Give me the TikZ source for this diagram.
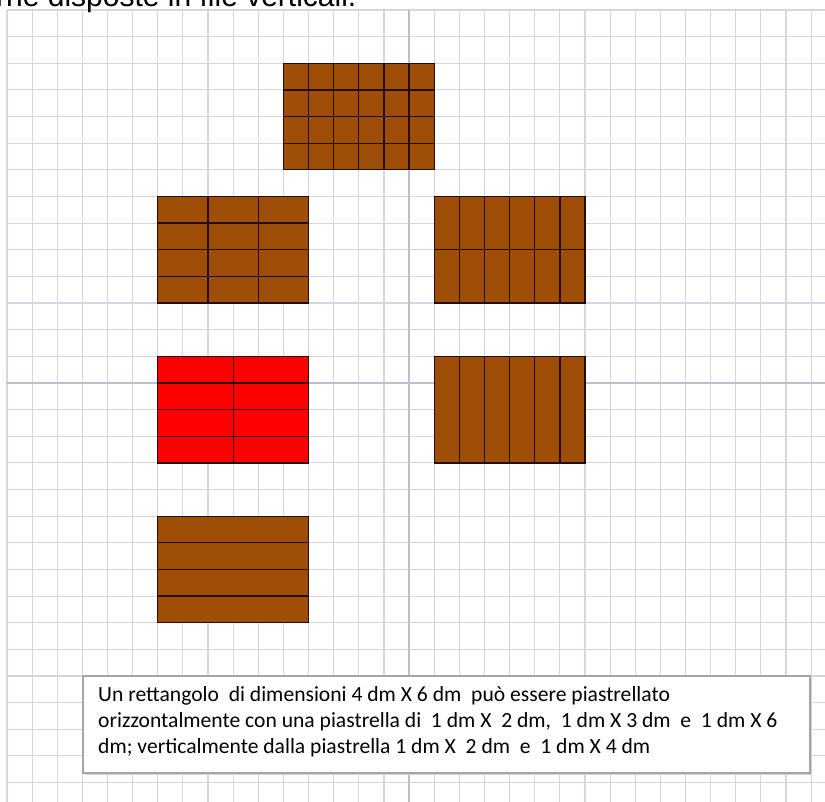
\documentclass[tikz,border=0pt]{standalone}
\usepackage{fontspec}
\setmainfont{Carlito}
\newfontfamily\topfont{Liberation Sans}
\definecolor{gridc}{RGB}{212,215,225}
\definecolor{axisc}{RGB}{188,192,204}
\definecolor{brownc}{RGB}{158,78,6}
\definecolor{redc}{RGB}{255,0,0}
\definecolor{edgec}{RGB}{35,12,0}
\definecolor{boxc}{RGB}{165,165,165}
\tikzset{
  gridline/.style={draw=gridc, line width=1.1pt},
  axisline/.style={draw=axisc, line width=1.8pt},
  tilebrown/.style={fill=brownc, draw=edgec, line width=1.3pt},
  tilered/.style={fill=redc, draw=edgec, line width=1.3pt},
  tileline/.style={draw=edgec, line width=1.3pt},
  tilethick/.style={draw=edgec, line width=2.2pt},
  txt/.style={anchor=base west, inner sep=0pt, font=\fontsize{21.6}{26}\selectfont}
}
\begin{document}
\begin{tikzpicture}[x=1pt,y=-1pt]
\useasboundingbox (0,0) rectangle (825,801);
\clip (0,0) rectangle (825,801);
\fill[white] (0,0) rectangle (825,801);
% grid in cell units
\begin{scope}[shift={(7pt,-10pt)}, x=25.13pt, y=-26.64pt]
  \foreach \i in {0,...,32} \draw[gridline] (\i,0) -- (\i,30);
  \foreach \j in {0,...,29} \draw[gridline] (0,\j) -- (33,\j);
  \draw[axisline] (16,0) -- (16,30);
  \draw[axisline] (0,14) -- (33,14);
  % top: 1x1 tiles
  \filldraw[tilebrown] (11,2) rectangle (17,6);
  \foreach \i in {12,...,15} \draw[tileline] (\i,2) -- (\i,6);
  \draw[tilethick] (16,2) -- (16,6);
  \foreach \j in {3,4,5} \draw[tileline] (11,\j) -- (17,\j);
  \draw[tileline] (11,2) rectangle (17,6);
  % left 2: 1x2 horizontal
  \filldraw[tilebrown] (6,7) rectangle (12,11);
  \foreach \i in {8,10} \draw[tileline] (\i,7) -- (\i,11);
  \foreach \j in {8,9,10} \draw[tileline] (6,\j) -- (12,\j);
  % right 2: 1x2 vertical
  \filldraw[tilebrown] (17,7) rectangle (23,11);
  \foreach \i in {18,...,22} \draw[tileline] (\i,7) -- (\i,11);
  \draw[tileline] (17,9) -- (23,9);
  % red: 1x3 horizontal
  \filldraw[tilered] (6,13) rectangle (12,17);
  \draw[tileline] (9,13) -- (9,17);
  \draw[tilethick] (6,14) -- (12,14);
  \foreach \j in {15,16} \draw[tileline] (6,\j) -- (12,\j);
  \draw[tileline] (6,13) rectangle (12,17);
  % right 3: 1x4 vertical
  \filldraw[tilebrown] (17,13) rectangle (23,17);
  \foreach \i in {18,...,22} \draw[tileline] (\i,13) -- (\i,17);
  % bottom: 1x6 horizontal
  \filldraw[tilebrown] (6,19) rectangle (12,23);
  \foreach \j in {20,21,22} \draw[tileline] (6,\j) -- (12,\j);
\end{scope}
% cut-off top text
\node[anchor=base west, inner sep=0pt, font=\topfont\fontsize{30}{30}\selectfont] (top) at (-4,6) {rne disposte in file verticali.};
% text box
\fill[gray!35] (85,678) rectangle (812,775);
\filldraw[fill=white, draw=boxc, line width=1.8pt] (83,676) rectangle (810,773);
\node[txt] (t1) at (98,701) {Un rettangolo \ di dimensioni 4 dm X 6 dm \ può essere piastrellato};
\node[txt] (t2) at (98,727) {orizzontalmente con una piastrella di \ 1 dm X \ 2 dm, \ 1 dm X 3 dm \ e \ 1 dm X 6};
\node[txt] (t3) at (98,753) {dm; verticalmente dalla piastrella 1 dm X \ 2 dm \ e \ 1 dm X 4 dm};
\end{tikzpicture}
\end{document}
